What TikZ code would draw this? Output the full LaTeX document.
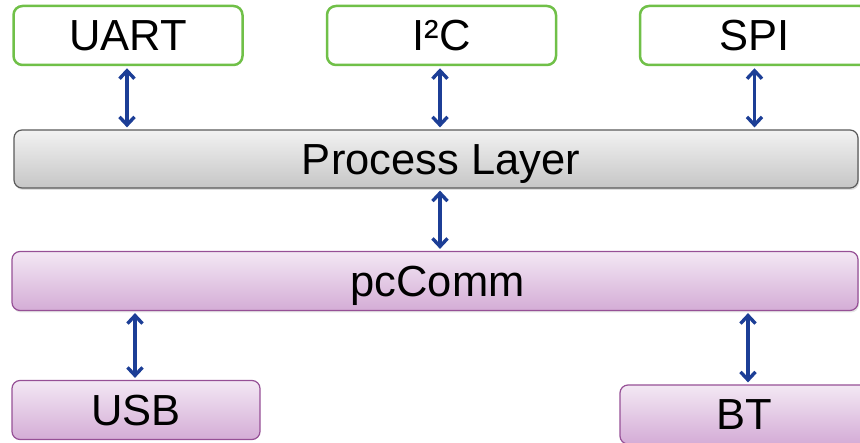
\documentclass[tikz,border=0pt]{standalone}
\usepackage{fontspec}
\setmainfont{Liberation Sans}
\usepackage{tikz}
\usetikzlibrary{arrows.meta,shadows}
\definecolor{ifgreen}{RGB}{112,192,72}
\definecolor{layerline}{RGB}{90,90,90}
\definecolor{layertop}{RGB}{242,242,242}
\definecolor{layerbot}{RGB}{198,198,198}
\definecolor{commline}{RGB}{150,80,150}
\definecolor{commtop}{RGB}{243,232,244}
\definecolor{commbot}{RGB}{212,172,214}
\definecolor{linkblue}{RGB}{28,62,150}

\begin{document}
\begin{tikzpicture}[x=1pt,y=-1pt]
\tikzstyle{every node}=[font=\fontsize{43.5}{50}\selectfont, inner sep=0pt, text height=31pt, text depth=0pt]
\tikzstyle{iface}=[draw=ifgreen, line width=2.5pt, fill=white, rounded corners=9pt, minimum width=229pt, minimum height=59pt]
\tikzstyle{layer}=[draw=layerline, line width=1.2pt, rounded corners=8pt, top color=layertop, bottom color=layerbot, minimum height=58pt, drop shadow={shadow xshift=1pt, shadow yshift=-2pt, opacity=0.25}]
\tikzstyle{comm}=[draw=commline, line width=1.2pt, rounded corners=8pt, top color=commtop, bottom color=commbot, minimum height=59pt]
\tikzstyle{link}=[draw=linkblue, line width=3.4pt, {Straight Barb[length=8pt,width=15pt]}-{Straight Barb[length=8pt,width=15pt]}, shorten <=2pt, shorten >=2pt]
\useasboundingbox (0,0) rectangle (860,443);
% interfaces
\node [iface] (uart) at (128,35.5) {UART};
\node [iface] (iic) at (441.5,35.5) {I²C};
\node [iface] (spi) at (754.5,35.5) {SPI};
% layers
\node [layer, minimum width=844pt] (proc) at (436,159) {\hspace*{10pt}Process Layer};
\node [comm, minimum width=846pt, drop shadow={shadow xshift=1pt, shadow yshift=-2pt, opacity=0.2}] (pccomm) at (435,281) {\hspace*{5pt}pcComm};
% ports
\node [comm, minimum width=248pt] (usb) at (136,410) {USB};
\node [comm, minimum width=248pt] (bt) at (744,414.5) {BT};
% links
\draw [link] ([xshift=-1pt]uart.south) -- ([xshift=-1pt]uart.south |- proc.north);
\draw [link] ([xshift=-1.5pt]iic.south) -- ([xshift=-1.5pt]iic.south |- proc.north);
\draw [link] (spi.south) -- (spi.south |- proc.north);
\path (proc.south -| iic.south) ++(-1.5,0) coordinate (pa);
\draw [link] (pa) -- (pa |- pccomm.north);
\draw [link] ([xshift=-1pt]usb.north |- pccomm.south) -- ([xshift=-1pt]usb.north);
\draw [link] ([xshift=4pt]bt.north |- pccomm.south) -- ([xshift=4pt]bt.north);
\end{tikzpicture}
\end{document}
